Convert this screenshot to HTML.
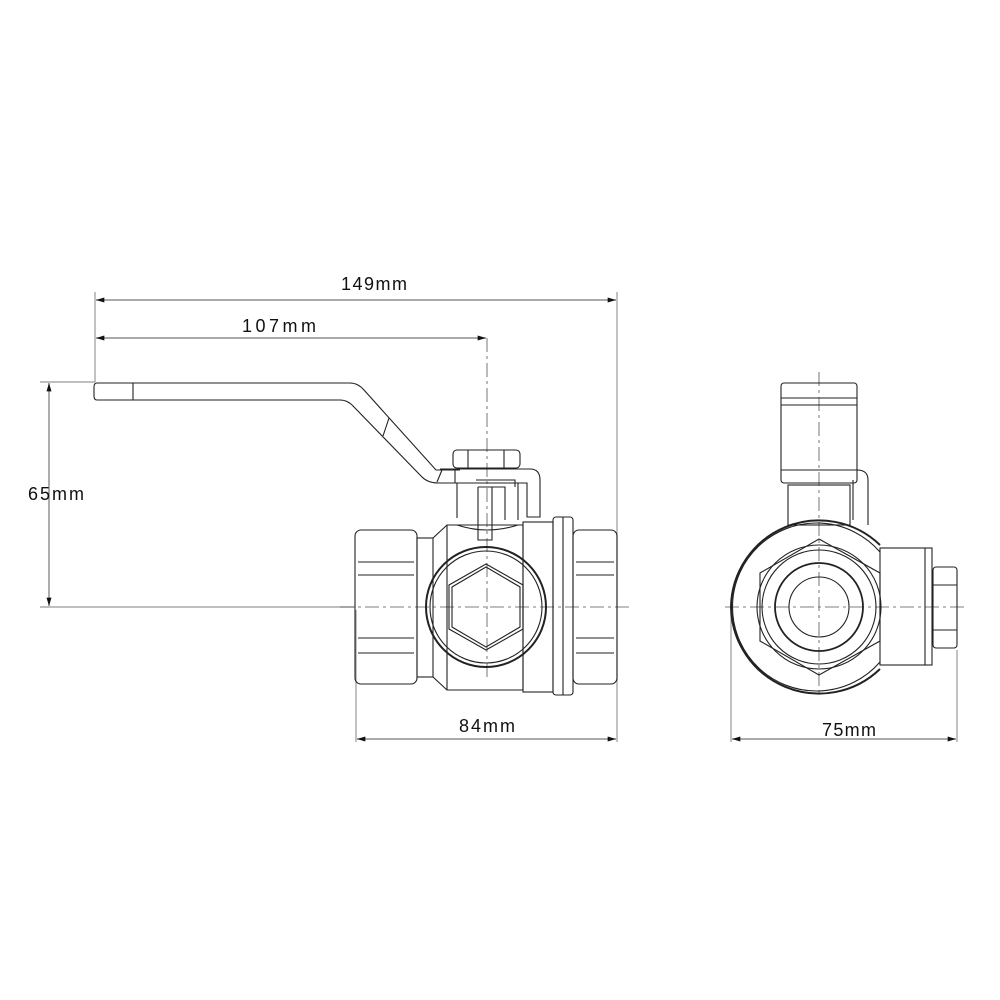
<!DOCTYPE html>
<html><head><style>
html,body{margin:0;padding:0;background:#fff;width:1000px;height:1000px;overflow:hidden}
svg{display:block}
text{font-family:"Liberation Sans",sans-serif;font-size:18px;fill:#111}
</style></head><body>
<svg width="1000" height="1000" viewBox="0 0 1000 1000" xmlns="http://www.w3.org/2000/svg">
<defs>
<marker id="a" viewBox="0 0 10 6" refX="10" refY="3" markerWidth="12" markerHeight="5" orient="auto-start-reverse" markerUnits="userSpaceOnUse"><path d="M0,0 L10,3 L0,6z" fill="#111"/></marker>
</defs>
<g stroke="#999" stroke-width="1.2" fill="none">
<line x1="95" y1="292" x2="95" y2="382"/>
<line x1="617" y1="292" x2="617" y2="742"/>
<line x1="356" y1="610" x2="356" y2="742"/>
<line x1="731" y1="610" x2="731" y2="742"/>
<line x1="957" y1="650" x2="957" y2="742"/>
<line x1="40" y1="382" x2="95" y2="382"/>
<line x1="40" y1="607" x2="355" y2="607"/>
</g>
<g stroke="#777" stroke-width="1.2" fill="none">
<line x1="96" y1="300" x2="616" y2="300" marker-start="url(#a)" marker-end="url(#a)"/>
<line x1="96" y1="338" x2="486" y2="338" marker-start="url(#a)" marker-end="url(#a)"/>
<line x1="49" y1="383" x2="49" y2="606" marker-start="url(#a)" marker-end="url(#a)"/>
<line x1="357" y1="739" x2="616" y2="739" marker-start="url(#a)" marker-end="url(#a)"/>
<line x1="732" y1="739" x2="956" y2="739" marker-start="url(#a)" marker-end="url(#a)"/>
</g>
<text x="341" y="290" textLength="66">149mm</text>
<text x="242" y="332" textLength="74">107mm</text>
<text x="28" y="500" textLength="56">65mm</text>
<text x="459" y="732" textLength="56">84mm</text>
<text x="822" y="736" textLength="54">75mm</text>
<g stroke="#555" stroke-width="0.8" stroke-dasharray="14,4,3,4" fill="none">
<line x1="487" y1="338" x2="487" y2="680"/>
<line x1="340" y1="607" x2="630" y2="607"/>
<line x1="819" y1="372" x2="819" y2="695"/>
<line x1="725" y1="607" x2="968" y2="607"/>
</g>
<g stroke="#222" stroke-width="1.1" fill="none">
<path d="M97,383 L350,383 Q358,383 364,390 L436,470 L460,470 M97,400 L340,400 Q348,400 354,407 L422,477 Q428,483 438,483 L460,483"/>
<path d="M97,383 Q94,383 94,387 L94,396 Q94,400 97,400"/>
<line x1="133" y1="383" x2="133" y2="400"/>
<line x1="389" y1="418" x2="383" y2="436"/>
<line x1="442" y1="470" x2="437" y2="482"/>
<rect x="453" y="450" width="67" height="18" rx="4"/>
<line x1="468" y1="450" x2="468" y2="468"/><line x1="504" y1="450" x2="504" y2="468"/>
<path d="M440,469 L530,469 Q540,469 540,480 L540,517 L527,517 L527,483 L450,483"/>
<line x1="455" y1="469" x2="455" y2="483"/>
<path d="M457,483 L457,518 M518,483 L518,520 M478,487 L478,540 L492,540 L492,487 M478,487 L505,487 L505,520 M476,480 L515,480 L515,487"/>
<rect x="355" y="530" width="62" height="154" rx="6"/>
<line x1="358" y1="562" x2="414" y2="562"/><line x1="358" y1="575" x2="414" y2="575"/>
<line x1="358" y1="638" x2="414" y2="638"/><line x1="358" y1="653" x2="414" y2="653"/>
<rect x="417" y="538" width="16" height="139"/>
<path d="M433,538 L447,525 L523,525 L523,690 L447,690 L433,677"/>
<line x1="447" y1="525" x2="447" y2="690"/>
<path d="M457,525 Q487,535 518,525"/>
<rect x="523" y="522" width="30" height="170"/>
<rect x="553" y="517" width="20" height="178" rx="3"/>
<line x1="563" y1="517" x2="563" y2="695"/>
<rect x="573" y="530" width="44" height="154" rx="6"/>
<line x1="576" y1="562" x2="614" y2="562"/><line x1="576" y1="575" x2="614" y2="575"/>
<line x1="576" y1="638" x2="614" y2="638"/><line x1="576" y1="653" x2="614" y2="653"/>
<circle cx="486" cy="607" r="60" stroke-width="2"/>
<circle cx="486" cy="607" r="56"/>
<polygon points="486,564 523,585 523,629 486,650 449,629 449,585"/>
<polygon points="486,567 520,587 520,627 486,647 452,627 452,587"/>
</g>
<g stroke="#222" stroke-width="1.1" fill="none">
<rect x="781" y="383" width="76" height="100" rx="3"/>
<line x1="781" y1="398" x2="857" y2="398"/><line x1="781" y1="405" x2="857" y2="405"/>
<line x1="781" y1="470" x2="857" y2="470"/>
<path d="M857,470 Q868,470 868,480 L868,525 M853,480 L853,520"/>
<rect x="788" y="485" width="62" height="40"/>
<path d="M731,607 A88,88 0 0 1 880,545 M731,607 A88,88 0 0 0 880,669" stroke-width="2"/>
<path d="M880,552 A84,84 0 1 0 880,662"/>
<polygon points="819,539 880,573 880,641 819,675 760,641 760,573"/>
<circle cx="819" cy="607" r="62"/>
<circle cx="819" cy="607" r="57"/>
<circle cx="819" cy="607" r="44" stroke-width="1.8"/>
<circle cx="819" cy="607" r="30"/>
<rect x="880" y="548" width="52" height="117"/>
<line x1="925" y1="548" x2="925" y2="665"/>
<rect x="933" y="567" width="24" height="81" rx="3"/>
<line x1="933" y1="585" x2="957" y2="585"/><line x1="933" y1="630" x2="957" y2="630"/>
</g>
</svg>
</body></html>
